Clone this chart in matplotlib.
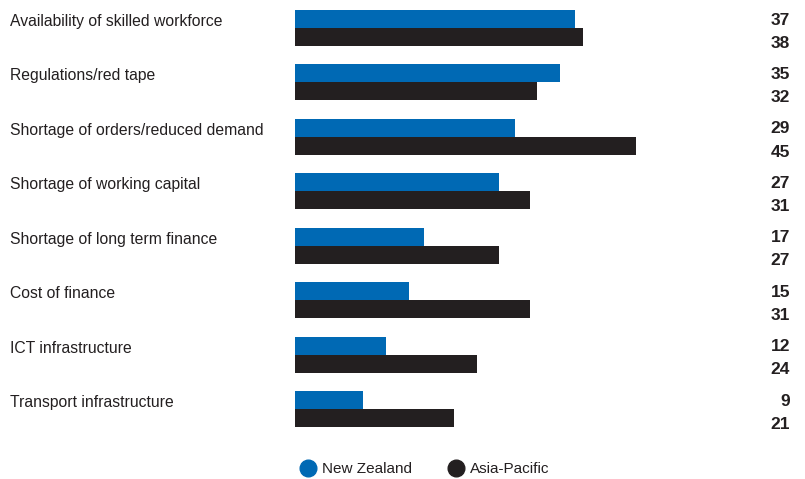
import matplotlib
matplotlib.use("Agg")
import matplotlib.pyplot as plt
from matplotlib import transforms
from matplotlib.lines import Line2D

plt.rcParams['font.family'] = ['Liberation Sans Narrow', 'Liberation Sans', 'DejaVu Sans']

categories = [
    "Availability of skilled workforce",
    "Regulations/red tape",
    "Shortage of orders/reduced demand",
    "Shortage of working capital",
    "Shortage of long term finance",
    "Cost of finance",
    "ICT infrastructure",
    "Transport infrastructure",
]
new_zealand = [37, 35, 29, 27, 17, 15, 12, 9]
asia_pacific = [38, 32, 45, 31, 27, 31, 24, 21]

nz_color = "#0069b4"
ap_color = "#231f20"

fig = plt.figure(figsize=(8.05, 4.79), dpi=100, facecolor="white")
# bars start at x=295 px, ~7.57 px per unit
ax = fig.add_axes([295 / 805, 0, 378.5 / 805, 1])
ax.set_xlim(0, 50)
ax.set_ylim(8.286, -0.514)
ax.axis("off")

h = 0.331
ypos = list(range(len(categories)))
ax.barh([y - h / 2 for y in ypos], new_zealand, height=h, color=nz_color, align="center")
ax.barh([y + h / 2 for y in ypos], asia_pacific, height=h, color=ap_color, align="center")

trans = transforms.blended_transform_factory(fig.transFigure, ax.transData)
for y, cat, nz, ap in zip(ypos, categories, new_zealand, asia_pacific):
    ax.text(10 / 805, y - 0.12, cat, transform=trans, ha="left", va="center",
            fontsize=11.3, color="#231f20")
    ax.text(790 / 805, y - 0.145, str(nz), transform=trans, ha="right", va="center",
            fontsize=12.5, fontweight="bold", color="#231f20")
    ax.text(790 / 805, y + 0.28, str(ap), transform=trans, ha="right", va="center",
            fontsize=12.5, fontweight="bold", color="#231f20")

handles = [
    Line2D([], [], marker="o", linestyle="none", markersize=12, color=nz_color, label="New Zealand"),
    Line2D([], [], marker="o", linestyle="none", markersize=12, color=ap_color, label="Asia-Pacific"),
]
fig.legend(handles=handles, loc="center", bbox_to_anchor=(424 / 805, 1 - 469 / 479), ncol=2,
           frameon=False, fontsize=11, handletextpad=0.3, columnspacing=2.3,
           handlelength=1.2, labelcolor="#231f20")

fig.savefig("out.png", dpi=100, facecolor="white")
